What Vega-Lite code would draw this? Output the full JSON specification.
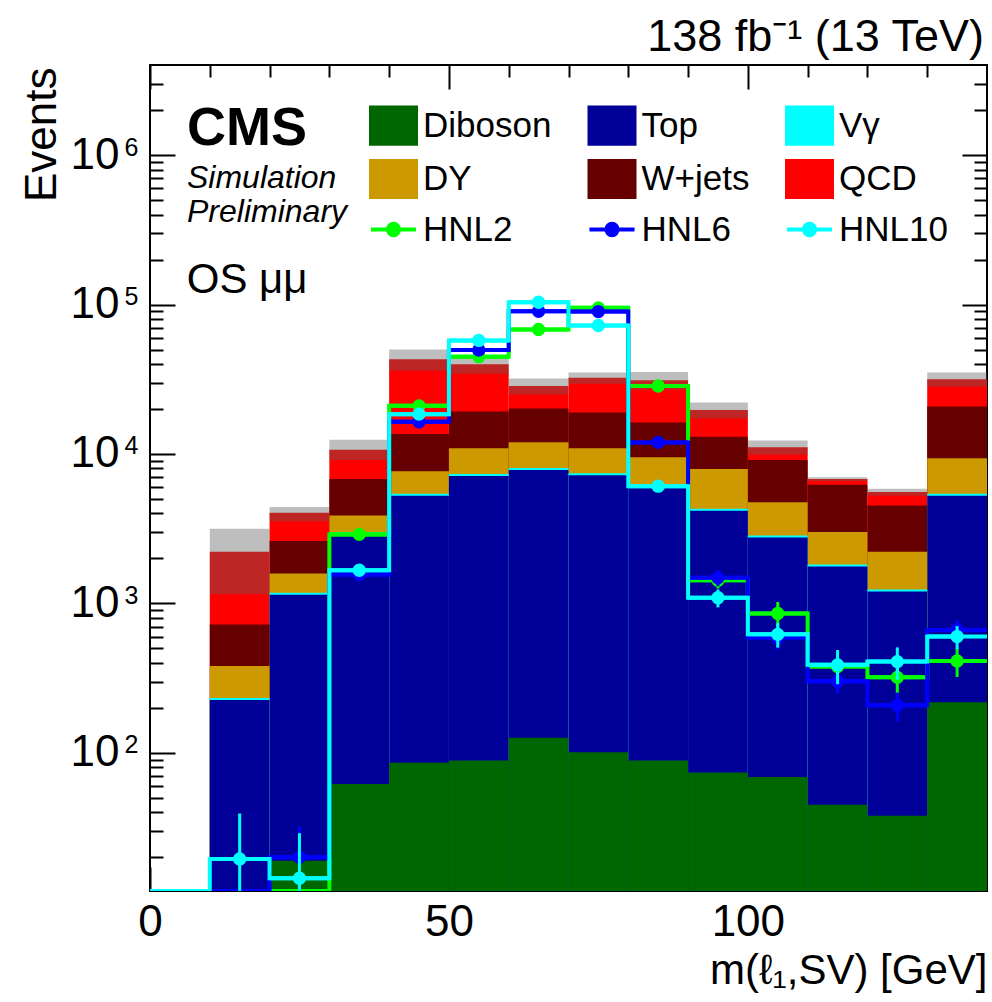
{
  "$schema": "https://vega.github.io/schema/vega-lite/v6.json",
  "width": 837,
  "height": 826,
  "autosize": {"type": "none"},
  "padding": {"left": 150, "top": 65, "right": 5, "bottom": 111},
  "background": "white",
  "config": {
    "font": "Liberation Sans",
    "view": {"stroke": "#000000", "strokeWidth": 2},
    "axis": {"domain": false, "grid": false, "labelColor": "#000000", "titleColor": "#000000", "tickColor": "#000000", "tickWidth": 2, "labelFlush": false, "labelOverlap": false}
  },
  "title": {
    "text": "138 fb⁻¹ (13 TeV)",
    "anchor": "end",
    "frame": "group",
    "baseline": "alphabetic",
    "offset": 13,
    "dx": -3,
    "dy": 45,
    "fontSize": 45,
    "fontWeight": "normal",
    "font": "Liberation Sans",
    "color": "#000000"
  },
  "datasets": {
    "bkg": [
      {"m_lo": 10, "m_hi": 20, "process": "Diboson", "yield": 0},
      {"m_lo": 10, "m_hi": 20, "process": "Top", "yield": 226},
      {"m_lo": 10, "m_hi": 20, "process": "Vγ", "yield": 7},
      {"m_lo": 10, "m_hi": 20, "process": "DY", "yield": 149},
      {"m_lo": 10, "m_hi": 20, "process": "W+jets", "yield": 342},
      {"m_lo": 10, "m_hi": 20, "process": "QCD", "yield": 1489},
      {"m_lo": 20, "m_hi": 30, "process": "Diboson", "yield": 19},
      {"m_lo": 20, "m_hi": 30, "process": "Top", "yield": 1125},
      {"m_lo": 20, "m_hi": 30, "process": "Vγ", "yield": 34},
      {"m_lo": 20, "m_hi": 30, "process": "DY", "yield": 407},
      {"m_lo": 20, "m_hi": 30, "process": "W+jets", "yield": 1033},
      {"m_lo": 20, "m_hi": 30, "process": "QCD", "yield": 1426},
      {"m_lo": 30, "m_hi": 40, "process": "Diboson", "yield": 62},
      {"m_lo": 30, "m_hi": 40, "process": "Top", "yield": 2855},
      {"m_lo": 30, "m_hi": 40, "process": "Vγ", "yield": 90},
      {"m_lo": 30, "m_hi": 40, "process": "DY", "yield": 873},
      {"m_lo": 30, "m_hi": 40, "process": "W+jets", "yield": 2933},
      {"m_lo": 30, "m_hi": 40, "process": "QCD", "yield": 3877},
      {"m_lo": 40, "m_hi": 50, "process": "Diboson", "yield": 86},
      {"m_lo": 40, "m_hi": 50, "process": "Top", "yield": 5166},
      {"m_lo": 40, "m_hi": 50, "process": "Vγ", "yield": 160},
      {"m_lo": 40, "m_hi": 50, "process": "DY", "yield": 2262},
      {"m_lo": 40, "m_hi": 50, "process": "W+jets", "yield": 5920},
      {"m_lo": 40, "m_hi": 50, "process": "QCD", "yield": 29392},
      {"m_lo": 50, "m_hi": 60, "process": "Diboson", "yield": 89},
      {"m_lo": 50, "m_hi": 60, "process": "Top", "yield": 7047},
      {"m_lo": 50, "m_hi": 60, "process": "Vγ", "yield": 220},
      {"m_lo": 50, "m_hi": 60, "process": "DY", "yield": 3558},
      {"m_lo": 50, "m_hi": 60, "process": "W+jets", "yield": 8361},
      {"m_lo": 50, "m_hi": 60, "process": "QCD", "yield": 20536},
      {"m_lo": 60, "m_hi": 70, "process": "Diboson", "yield": 126},
      {"m_lo": 60, "m_hi": 70, "process": "Top", "yield": 7698},
      {"m_lo": 60, "m_hi": 70, "process": "Vγ", "yield": 240},
      {"m_lo": 60, "m_hi": 70, "process": "DY", "yield": 3903},
      {"m_lo": 60, "m_hi": 70, "process": "W+jets", "yield": 8208},
      {"m_lo": 60, "m_hi": 70, "process": "QCD", "yield": 8322},
      {"m_lo": 70, "m_hi": 80, "process": "Diboson", "yield": 101},
      {"m_lo": 70, "m_hi": 80, "process": "Top", "yield": 7109},
      {"m_lo": 70, "m_hi": 80, "process": "Vγ", "yield": 220},
      {"m_lo": 70, "m_hi": 80, "process": "DY", "yield": 3484},
      {"m_lo": 70, "m_hi": 80, "process": "W+jets", "yield": 8010},
      {"m_lo": 70, "m_hi": 80, "process": "QCD", "yield": 13510},
      {"m_lo": 80, "m_hi": 90, "process": "Diboson", "yield": 89},
      {"m_lo": 80, "m_hi": 90, "process": "Top", "yield": 5881},
      {"m_lo": 80, "m_hi": 90, "process": "Vγ", "yield": 180},
      {"m_lo": 80, "m_hi": 90, "process": "DY", "yield": 3359},
      {"m_lo": 80, "m_hi": 90, "process": "W+jets", "yield": 6746},
      {"m_lo": 80, "m_hi": 90, "process": "QCD", "yield": 14862},
      {"m_lo": 90, "m_hi": 100, "process": "Diboson", "yield": 74},
      {"m_lo": 90, "m_hi": 100, "process": "Top", "yield": 4095},
      {"m_lo": 90, "m_hi": 100, "process": "Vγ", "yield": 130},
      {"m_lo": 90, "m_hi": 100, "process": "DY", "yield": 3644},
      {"m_lo": 90, "m_hi": 100, "process": "W+jets", "yield": 5089},
      {"m_lo": 90, "m_hi": 100, "process": "QCD", "yield": 6700},
      {"m_lo": 100, "m_hi": 110, "process": "Diboson", "yield": 69},
      {"m_lo": 100, "m_hi": 110, "process": "Top", "yield": 2697},
      {"m_lo": 100, "m_hi": 110, "process": "Vγ", "yield": 85},
      {"m_lo": 100, "m_hi": 110, "process": "DY", "yield": 1912},
      {"m_lo": 100, "m_hi": 110, "process": "W+jets", "yield": 4357},
      {"m_lo": 100, "m_hi": 110, "process": "QCD", "yield": 1966},
      {"m_lo": 110, "m_hi": 120, "process": "Diboson", "yield": 45},
      {"m_lo": 110, "m_hi": 120, "process": "Top", "yield": 1720},
      {"m_lo": 110, "m_hi": 120, "process": "Vγ", "yield": 55},
      {"m_lo": 110, "m_hi": 120, "process": "DY", "yield": 1187},
      {"m_lo": 110, "m_hi": 120, "process": "W+jets", "yield": 3230},
      {"m_lo": 110, "m_hi": 120, "process": "QCD", "yield": 576},
      {"m_lo": 120, "m_hi": 130, "process": "Diboson", "yield": 38},
      {"m_lo": 120, "m_hi": 130, "process": "Top", "yield": 1165},
      {"m_lo": 120, "m_hi": 130, "process": "Vγ", "yield": 37},
      {"m_lo": 120, "m_hi": 130, "process": "DY", "yield": 973},
      {"m_lo": 120, "m_hi": 130, "process": "W+jets", "yield": 2306},
      {"m_lo": 120, "m_hi": 130, "process": "QCD", "yield": 1040},
      {"m_lo": 130, "m_hi": 140, "process": "Diboson", "yield": 218},
      {"m_lo": 130, "m_hi": 140, "process": "Top", "yield": 5034},
      {"m_lo": 130, "m_hi": 140, "process": "Vγ", "yield": 160},
      {"m_lo": 130, "m_hi": 140, "process": "DY", "yield": 3942},
      {"m_lo": 130, "m_hi": 140, "process": "W+jets", "yield": 11443},
      {"m_lo": 130, "m_hi": 140, "process": "QCD", "yield": 10826}
    ],
    "unc": [
      {"m_lo": 10, "m_hi": 20, "lo": 1150, "hi": 3160},
      {"m_lo": 20, "m_hi": 30, "lo": 3550, "hi": 4420},
      {"m_lo": 30, "m_hi": 40, "lo": 9100, "hi": 12450},
      {"m_lo": 40, "m_hi": 50, "lo": 36000, "hi": 50100},
      {"m_lo": 50, "m_hi": 60, "lo": 34500, "hi": 44400},
      {"m_lo": 60, "m_hi": 70, "lo": 25000, "hi": 32000},
      {"m_lo": 70, "m_hi": 80, "lo": 29500, "hi": 35100},
      {"m_lo": 80, "m_hi": 90, "lo": 27000, "hi": 35400},
      {"m_lo": 90, "m_hi": 100, "lo": 17300, "hi": 22100},
      {"m_lo": 100, "m_hi": 110, "lo": 9900, "hi": 12300},
      {"m_lo": 110, "m_hi": 120, "lo": 6600, "hi": 7000},
      {"m_lo": 120, "m_hi": 130, "lo": 5250, "hi": 5850},
      {"m_lo": 130, "m_hi": 140, "lo": 28200, "hi": 35100}
    ],
    "sig": [
      {"sample": "HNL2", "m_lo": 0, "m_hi": 10, "m": 5, "value": 0, "lo": 0, "hi": 0},
      {"sample": "HNL2", "m_lo": 10, "m_hi": 20, "m": 15, "value": 0, "lo": 0, "hi": 0},
      {"sample": "HNL2", "m_lo": 20, "m_hi": 30, "m": 25, "value": 0, "lo": 0, "hi": 0},
      {"sample": "HNL2", "m_lo": 30, "m_hi": 40, "m": 35, "value": 2897, "lo": 2750, "hi": 3050},
      {"sample": "HNL2", "m_lo": 40, "m_hi": 50, "m": 45, "value": 20990, "lo": 20100, "hi": 21900},
      {"sample": "HNL2", "m_lo": 50, "m_hi": 60, "m": 55, "value": 44770, "lo": 43300, "hi": 46300},
      {"sample": "HNL2", "m_lo": 60, "m_hi": 70, "m": 65, "value": 68100, "lo": 66100, "hi": 70100},
      {"sample": "HNL2", "m_lo": 70, "m_hi": 80, "m": 75, "value": 95060, "lo": 92600, "hi": 97500},
      {"sample": "HNL2", "m_lo": 80, "m_hi": 90, "m": 85, "value": 28500, "lo": 27200, "hi": 29800},
      {"sample": "HNL2", "m_lo": 90, "m_hi": 100, "m": 95, "value": 1429, "lo": 1260, "hi": 1600},
      {"sample": "HNL2", "m_lo": 100, "m_hi": 110, "m": 105, "value": 857, "lo": 692, "hi": 1022},
      {"sample": "HNL2", "m_lo": 110, "m_hi": 120, "m": 115, "value": 378, "lo": 283, "hi": 473},
      {"sample": "HNL2", "m_lo": 120, "m_hi": 130, "m": 125, "value": 320, "lo": 250, "hi": 390},
      {"sample": "HNL2", "m_lo": 130, "m_hi": 140, "m": 135, "value": 412, "lo": 322, "hi": 502},
      {"sample": "HNL6", "m_lo": 0, "m_hi": 10, "m": 5, "value": 0, "lo": 0, "hi": 0},
      {"sample": "HNL6", "m_lo": 10, "m_hi": 20, "m": 15, "value": 0, "lo": 0, "hi": 0},
      {"sample": "HNL6", "m_lo": 20, "m_hi": 30, "m": 25, "value": 20, "lo": 8, "hi": 32},
      {"sample": "HNL6", "m_lo": 30, "m_hi": 40, "m": 35, "value": 1561, "lo": 1421, "hi": 1701},
      {"sample": "HNL6", "m_lo": 40, "m_hi": 50, "m": 45, "value": 16410, "lo": 15610, "hi": 17210},
      {"sample": "HNL6", "m_lo": 50, "m_hi": 60, "m": 55, "value": 49600, "lo": 48100, "hi": 51100},
      {"sample": "HNL6", "m_lo": 60, "m_hi": 70, "m": 65, "value": 90200, "lo": 88200, "hi": 92200},
      {"sample": "HNL6", "m_lo": 70, "m_hi": 80, "m": 75, "value": 89800, "lo": 87800, "hi": 91800},
      {"sample": "HNL6", "m_lo": 80, "m_hi": 90, "m": 85, "value": 11960, "lo": 11360, "hi": 12560},
      {"sample": "HNL6", "m_lo": 90, "m_hi": 100, "m": 95, "value": 1483, "lo": 1303, "hi": 1663},
      {"sample": "HNL6", "m_lo": 100, "m_hi": 110, "m": 105, "value": 591, "lo": 491, "hi": 691},
      {"sample": "HNL6", "m_lo": 110, "m_hi": 120, "m": 115, "value": 301, "lo": 249, "hi": 353},
      {"sample": "HNL6", "m_lo": 120, "m_hi": 130, "m": 125, "value": 208, "lo": 163, "hi": 253},
      {"sample": "HNL6", "m_lo": 130, "m_hi": 140, "m": 135, "value": 664, "lo": 554, "hi": 774},
      {"sample": "HNL10", "m_lo": 0, "m_hi": 10, "m": 5, "value": 0, "lo": 0, "hi": 0},
      {"sample": "HNL10", "m_lo": 10, "m_hi": 20, "m": 15, "value": 19.5, "lo": 0.5, "hi": 39.3},
      {"sample": "HNL10", "m_lo": 20, "m_hi": 30, "m": 25, "value": 14.5, "lo": 1, "hi": 29},
      {"sample": "HNL10", "m_lo": 30, "m_hi": 40, "m": 35, "value": 1667, "lo": 1527, "hi": 1807},
      {"sample": "HNL10", "m_lo": 40, "m_hi": 50, "m": 45, "value": 18480, "lo": 17780, "hi": 19180},
      {"sample": "HNL10", "m_lo": 50, "m_hi": 60, "m": 55, "value": 57540, "lo": 56040, "hi": 59040},
      {"sample": "HNL10", "m_lo": 60, "m_hi": 70, "m": 65, "value": 103600, "lo": 101600, "hi": 105600},
      {"sample": "HNL10", "m_lo": 70, "m_hi": 80, "m": 75, "value": 72440, "lo": 70740, "hi": 74140},
      {"sample": "HNL10", "m_lo": 80, "m_hi": 90, "m": 85, "value": 6090, "lo": 5740, "hi": 6440},
      {"sample": "HNL10", "m_lo": 90, "m_hi": 100, "m": 95, "value": 1091, "lo": 941, "hi": 1241},
      {"sample": "HNL10", "m_lo": 100, "m_hi": 110, "m": 105, "value": 621, "lo": 506, "hi": 736},
      {"sample": "HNL10", "m_lo": 110, "m_hi": 120, "m": 115, "value": 388, "lo": 288, "hi": 488},
      {"sample": "HNL10", "m_lo": 120, "m_hi": 130, "m": 125, "value": 408, "lo": 308, "hi": 508},
      {"sample": "HNL10", "m_lo": 130, "m_hi": 140, "m": 135, "value": 600, "lo": 495, "hi": 705}
    ]
  },
  "resolve": {"axis": {"x": "independent", "y": "independent"}},
  "layer": [
    {
      "data": {"name": "bkg"},
      "transform": [{"window": [{"op": "sum", "field": "yield", "as": "cum"}], "groupby": ["m_lo"], "frame": [null, 0]}],
      "mark": {"type": "bar", "clip": true},
      "encoding": {
        "x": {"field": "m_lo", "type": "quantitative", "scale": {"domain": [0, 140], "nice": false, "zero": false},
          "axis": {"orient": "bottom", "values": [0, 50, 100], "ticks": false, "tickSize": 0, "labelFontSize": 44, "labelPadding": 44, "labelBaseline": "alphabetic", "labelAlign": "center", "format": "d",
            "title": "m(ℓ₁,SV) [GeV]", "titleFontSize": 42, "titleFontWeight": "normal", "titleX": 837, "titleY": 92, "titleAlign": "right", "titleBaseline": "alphabetic", "titleAnchor": "end"}},
        "x2": {"field": "m_hi"},
        "y": {"field": "cum", "type": "quantitative", "stack": null, "scale": {"type": "log", "domain": [11.9, 4010000], "nice": false, "clamp": true},
          "axis": {"orient": "left", "values": [100, 1000, 10000, 100000, 1000000], "ticks": false, "tickSize": 0, "labelExpr": "'10'", "labelFontSize": 44, "labelPadding": 31, "labelAlign": "right", "labelBaseline": "middle", "labelDy": 7,
            "title": "Events", "titleFontSize": 44, "titleFontWeight": "normal", "titleX": -95, "titleY": 2, "titleAngle": -90, "titleAlign": "right", "titleBaseline": "alphabetic"}},
        "y2": {"value": "height"},
        "color": {"field": "process", "type": "nominal",
          "scale": {"domain": ["Diboson", "DY", "HNL2", "Top", "W+jets", "HNL6", "Vγ", "QCD", "HNL10"],
                    "range": ["#006600", "#cc9900", "#00ff00", "#000099", "#660000", "#0000ff", "#00ffff", "#ff0000", "#00ffff"]},
          "legend": {"orient": "none", "legendX": 226, "legendY": 43, "columns": 3, "title": null, "padding": 0,
            "symbolSize": 2401, "labelFontSize": 35, "labelColor": "#000000", "labelLimit": 0, "labelOffset": 12,
            "columnPadding": 28.5, "rowPadding": 12.5, "gridAlign": "each",
            "encode": {"symbols": {"update": {
              "shape": {"signal": "indexof(['HNL2','HNL6','HNL10'], datum.value) >= 0 ? 'M-0.92,0H0.92M0.23,0A0.23,0.23,0,1,1,-0.23,0A0.23,0.23,0,1,1,0.23,0Z' : 'M-1,-0.82H1V0.82H-1Z'"},
              "fill": {"scale": "color", "field": "value"},
              "stroke": {"scale": "color", "field": "value"},
              "strokeWidth": {"signal": "indexof(['HNL2','HNL6','HNL10'], datum.value) >= 0 ? 4 : 0"},
              "opacity": {"value": 1}}}}}},
        "order": {"field": "cum", "type": "quantitative", "sort": "descending"}
      }
    },
    {
      "data": {"name": "unc"},
      "mark": {"type": "bar", "color": "#5c5c5c", "opacity": 0.4, "clip": true},
      "encoding": {
        "x": {"field": "m_lo", "type": "quantitative", "scale": {"domain": [0, 140], "nice": false, "zero": false},
          "axis": {"orient": "bottom", "values": [0, 50, 100], "labels": false, "ticks": true, "tickSize": -24, "title": null}},
        "x2": {"field": "m_hi"},
        "y": {"field": "lo", "type": "quantitative", "scale": {"type": "log", "domain": [11.9, 4010000], "nice": false, "clamp": true},
          "axis": {"orient": "left", "values": [100, 1000, 10000, 100000, 1000000], "ticks": false, "tickSize": 0, "labelExpr": "round(log(datum.value)/LN10) + ''", "labelFontSize": 25, "labelPadding": 12, "labelAlign": "right", "labelBaseline": "alphabetic", "labelDy": 2, "title": null}},
        "y2": {"field": "hi"}
      }
    },
    {
      "data": {"name": "sig"},
      "transform": [{"filter": "datum.sample === 'HNL2'"}],
      "layer": [
        {"mark": {"type": "rule", "strokeWidth": 4, "invalid": "show", "clip": true},
         "encoding": {"x": {"field": "m_lo", "type": "quantitative", "axis": null}, "x2": {"field": "m_hi"}, "y": {"field": "value", "type": "quantitative", "axis": null}, "color": {"field": "sample", "type": "nominal"}}},
        {"mark": {"type": "line", "interpolate": "step", "strokeWidth": 4, "invalid": "show", "clip": true},
         "encoding": {"x": {"field": "m", "type": "quantitative", "axis": null}, "y": {"field": "value", "type": "quantitative", "axis": null}, "color": {"field": "sample", "type": "nominal"}}},
        {"transform": [{"filter": "datum.value > 0"}], "mark": {"type": "rule", "strokeWidth": 3, "clip": true},
         "encoding": {"x": {"field": "m", "type": "quantitative", "axis": null}, "y": {"field": "lo", "type": "quantitative", "axis": null}, "y2": {"field": "hi"}, "color": {"field": "sample", "type": "nominal"}}},
        {"transform": [{"filter": "datum.value > 0"}], "mark": {"type": "circle", "size": 177, "opacity": 1, "clip": true},
         "encoding": {"x": {"field": "m", "type": "quantitative", "axis": null}, "y": {"field": "value", "type": "quantitative", "axis": null}, "color": {"field": "sample", "type": "nominal"}}}
      ]
    },
    {
      "data": {"name": "sig"},
      "transform": [{"filter": "datum.sample === 'HNL6'"}],
      "layer": [
        {"mark": {"type": "rule", "strokeWidth": 4, "invalid": "show", "clip": true},
         "encoding": {"x": {"field": "m_lo", "type": "quantitative", "axis": null}, "x2": {"field": "m_hi"}, "y": {"field": "value", "type": "quantitative", "axis": null}, "color": {"field": "sample", "type": "nominal"}}},
        {"mark": {"type": "line", "interpolate": "step", "strokeWidth": 4, "invalid": "show", "clip": true},
         "encoding": {"x": {"field": "m", "type": "quantitative", "axis": null}, "y": {"field": "value", "type": "quantitative", "axis": null}, "color": {"field": "sample", "type": "nominal"}}},
        {"transform": [{"filter": "datum.value > 0"}], "mark": {"type": "rule", "strokeWidth": 3, "clip": true},
         "encoding": {"x": {"field": "m", "type": "quantitative", "axis": null}, "y": {"field": "lo", "type": "quantitative", "axis": null}, "y2": {"field": "hi"}, "color": {"field": "sample", "type": "nominal"}}},
        {"transform": [{"filter": "datum.value > 0"}], "mark": {"type": "circle", "size": 177, "opacity": 1, "clip": true},
         "encoding": {"x": {"field": "m", "type": "quantitative", "axis": null}, "y": {"field": "value", "type": "quantitative", "axis": null}, "color": {"field": "sample", "type": "nominal"}}}
      ]
    },
    {
      "data": {"name": "sig"},
      "transform": [{"filter": "datum.sample === 'HNL10'"}],
      "layer": [
        {"mark": {"type": "rule", "strokeWidth": 4, "invalid": "show", "clip": true},
         "encoding": {"x": {"field": "m_lo", "type": "quantitative", "axis": null}, "x2": {"field": "m_hi"}, "y": {"field": "value", "type": "quantitative", "axis": null}, "color": {"field": "sample", "type": "nominal"}}},
        {"mark": {"type": "line", "interpolate": "step", "strokeWidth": 4, "invalid": "show", "clip": true},
         "encoding": {"x": {"field": "m", "type": "quantitative", "axis": null}, "y": {"field": "value", "type": "quantitative", "axis": null}, "color": {"field": "sample", "type": "nominal"}}},
        {"transform": [{"filter": "datum.value > 0"}], "mark": {"type": "rule", "strokeWidth": 3, "clip": true},
         "encoding": {"x": {"field": "m", "type": "quantitative", "axis": null}, "y": {"field": "lo", "type": "quantitative", "axis": null}, "y2": {"field": "hi"}, "color": {"field": "sample", "type": "nominal"}}},
        {"transform": [{"filter": "datum.value > 0"}], "mark": {"type": "circle", "size": 177, "opacity": 1, "clip": true},
         "encoding": {"x": {"field": "m", "type": "quantitative", "axis": null}, "y": {"field": "value", "type": "quantitative", "axis": null}, "color": {"field": "sample", "type": "nominal"}}}
      ]
    },
    {
      "data": {"values": [{"label": "CMS"}]},
      "mark": {"type": "text", "fontSize": 54, "fontWeight": "bold", "align": "left", "baseline": "alphabetic", "color": "#000000"},
      "encoding": {
        "text": {"field": "label"},
        "x": {"datum": 6.19, "type": "quantitative", "axis": {"orient": "bottom", "values": [10, 20, 30, 40, 60, 70, 80, 90, 110, 120, 130], "labels": false, "ticks": true, "tickSize": -12, "title": null}},
        "y": {"datum": 1169000, "type": "quantitative", "axis": {"orient": "left", "values": [100, 1000, 10000, 100000, 1000000], "labels": false, "ticks": true, "tickSize": -25, "title": null}}
      }
    },
    {
      "data": {"values": [{"label": "Simulation"}]},
      "mark": {"type": "text", "fontSize": 32, "fontStyle": "italic", "align": "left", "baseline": "alphabetic", "color": "#000000"},
      "encoding": {
        "text": {"field": "label"},
        "x": {"datum": 6.19, "type": "quantitative", "axis": {"orient": "top", "values": [0, 50, 100], "labels": false, "ticks": true, "tickSize": -24, "title": null}},
        "y": {"datum": 599800, "type": "quantitative", "axis": {"orient": "left", "values": [20, 30, 40, 50, 60, 70, 80, 90, 200, 300, 400, 500, 600, 700, 800, 900, 2000, 3000, 4000, 5000, 6000, 7000, 8000, 9000, 20000, 30000, 40000, 50000, 60000, 70000, 80000, 90000, 200000, 300000, 400000, 500000, 600000, 700000, 800000, 900000, 2000000, 3000000], "labels": false, "ticks": true, "tickSize": -13, "title": null}}
      }
    },
    {
      "data": {"values": [{"label": "Preliminary"}]},
      "mark": {"type": "text", "fontSize": 32, "fontStyle": "italic", "align": "left", "baseline": "alphabetic", "color": "#000000"},
      "encoding": {
        "text": {"field": "label"},
        "x": {"datum": 6.19, "type": "quantitative", "axis": {"orient": "top", "values": [10, 20, 30, 40, 60, 70, 80, 90, 110, 120, 130], "labels": false, "ticks": true, "tickSize": -12, "title": null}},
        "y": {"datum": 358500, "type": "quantitative", "axis": {"orient": "right", "values": [100, 1000, 10000, 100000, 1000000], "labels": false, "ticks": true, "tickSize": -25, "title": null}}
      }
    },
    {
      "data": {"values": [{"label": "OS μμ"}]},
      "mark": {"type": "text", "fontSize": 42, "align": "left", "baseline": "alphabetic", "color": "#000000"},
      "encoding": {
        "text": {"field": "label"},
        "x": {"datum": 6.14, "type": "quantitative", "axis": null},
        "y": {"datum": 119000, "type": "quantitative", "axis": {"orient": "right", "values": [20, 30, 40, 50, 60, 70, 80, 90, 200, 300, 400, 500, 600, 700, 800, 900, 2000, 3000, 4000, 5000, 6000, 7000, 8000, 9000, 20000, 30000, 40000, 50000, 60000, 70000, 80000, 90000, 200000, 300000, 400000, 500000, 600000, 700000, 800000, 900000, 2000000, 3000000], "labels": false, "ticks": true, "tickSize": -13, "title": null}}
      }
    }
  ]
}
